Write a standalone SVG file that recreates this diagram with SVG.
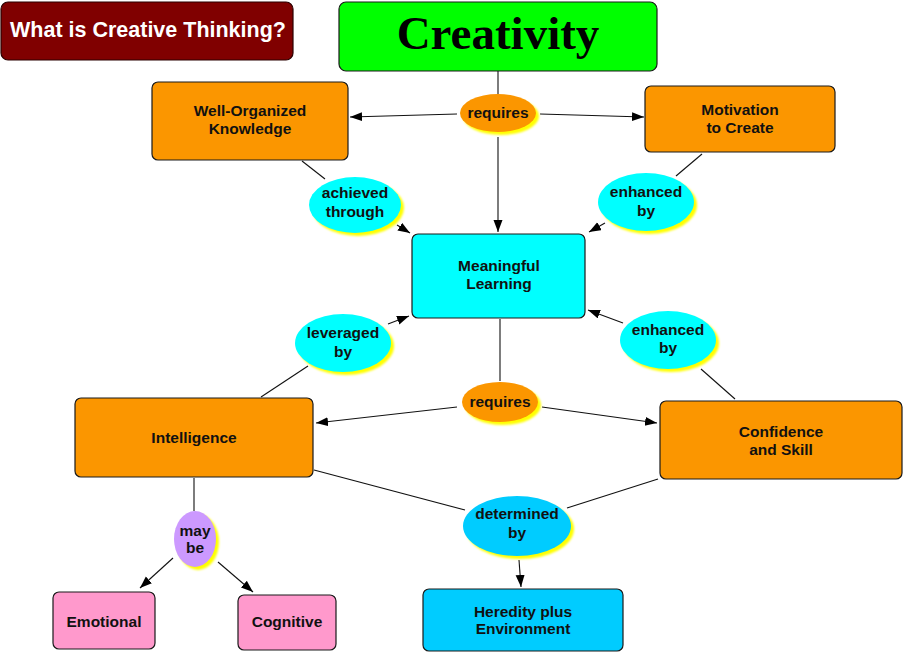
<svg xmlns="http://www.w3.org/2000/svg" width="904" height="653" viewBox="0 0 904 653">
<defs>
<marker id="arr" markerUnits="userSpaceOnUse" markerWidth="13" markerHeight="10" refX="12" refY="4.5" orient="auto">
<path d="M0,0 L12,4.5 L0,9 z" fill="#000"/>
</marker>
<filter id="soft" x="-20%" y="-20%" width="140%" height="140%"><feGaussianBlur stdDeviation="0.8"/></filter>
<style>
.box{stroke:#1a1a1a;stroke-width:1.2}
.org{fill:#fb9600}
.cyan{fill:#00ffff}
.blue{fill:#00ccff}
.pink{fill:#ff99cc}
.sh{fill:#ffff00;filter:url(#soft)}
.t{font-family:"Liberation Sans",Arial,sans-serif;font-weight:bold;font-size:15.5px;fill:#111;text-anchor:middle}
.c line{stroke:#111;stroke-width:1.1}
.c .a{marker-end:url(#arr)}
</style>
</defs>
<rect width="904" height="653" fill="#fff"/>

<g id="title">
<rect x="1" y="2" width="292" height="58" rx="7" fill="#800000" stroke="#2a0000" stroke-width="1.2"/>
<text x="10" y="37" font-family="Liberation Sans,Arial,sans-serif" font-weight="bold" font-size="21.5" fill="#fff">What is Creative Thinking?</text>
</g>

<g class="c">
<line x1="498" y1="71" x2="498" y2="94"/>
<line class="a" x1="457" y1="114" x2="350" y2="117"/>
<line class="a" x1="540" y1="114" x2="644" y2="117"/>
<line class="a" x1="498" y1="137" x2="498" y2="232"/>
<line x1="302" y1="161" x2="325" y2="179"/>
<line class="a" x1="397" y1="225" x2="410" y2="233"/>
<line x1="702" y1="154" x2="676" y2="176"/>
<line class="a" x1="605" y1="223" x2="589" y2="232"/>
<line x1="500" y1="319" x2="500" y2="381"/>
<line class="a" x1="457" y1="407" x2="316" y2="423"/>
<line class="a" x1="542" y1="407" x2="657" y2="423"/>
<line class="a" x1="388" y1="324" x2="409" y2="316"/>
<line x1="261" y1="397" x2="308" y2="366"/>
<line class="a" x1="623" y1="323" x2="588" y2="310"/>
<line x1="735" y1="399" x2="701" y2="369"/>
<line x1="314" y1="470" x2="465" y2="510"/>
<line x1="658" y1="479" x2="567" y2="508"/>
<line class="a" x1="519" y1="560" x2="521" y2="587"/>
<line x1="194" y1="478" x2="194" y2="511"/>
<line class="a" x1="173" y1="558" x2="140" y2="588"/>
<line class="a" x1="218" y1="562" x2="253" y2="592"/>
</g>

<g id="creativity">
<rect x="339" y="2" width="318" height="69" rx="7" fill="#00ff00" class="box"/>
<text x="498" y="49" font-family="Liberation Serif,'Times New Roman',serif" font-weight="bold" font-size="47" fill="#000" text-anchor="middle">Creativity</text>
</g>

<g id="well-organized">
<rect x="152" y="82" width="196" height="78" rx="6" class="box org"/>
<text class="t" x="250" y="116">Well-Organized</text>
<text class="t" x="250" y="134">Knowledge</text>
</g>

<g id="motivation">
<rect x="645" y="86" width="190" height="66" rx="6" class="box org"/>
<text class="t" x="740" y="115">Motivation</text>
<text class="t" x="740" y="133">to Create</text>
</g>

<g id="requires-top">
<ellipse cx="501" cy="116" rx="38" ry="19" class="sh"/>
<ellipse cx="498" cy="113" rx="38" ry="19" fill="#fb9600"/>
<text class="t" x="498" y="118">requires</text>
</g>

<g id="achieved-through">
<ellipse cx="358" cy="208" rx="46" ry="28" class="sh"/>
<ellipse cx="355" cy="205" rx="46" ry="28" class="cyan"/>
<text class="t" x="355" y="198">achieved</text>
<text class="t" x="355" y="217">through</text>
</g>

<g id="enhanced-by-top">
<ellipse cx="649" cy="205" rx="48" ry="29" class="sh"/>
<ellipse cx="646" cy="202" rx="48" ry="29" class="cyan"/>
<text class="t" x="646" y="197">enhanced</text>
<text class="t" x="646" y="216">by</text>
</g>

<g id="meaningful-learning">
<rect x="412" y="234" width="173" height="84" rx="6" class="box cyan"/>
<text class="t" x="499" y="271">Meaningful</text>
<text class="t" x="499" y="289">Learning</text>
</g>

<g id="leveraged-by">
<ellipse cx="346" cy="346" rx="48" ry="29" class="sh"/>
<ellipse cx="343" cy="343" rx="48" ry="29" class="cyan"/>
<text class="t" x="343" y="338">leveraged</text>
<text class="t" x="343" y="357">by</text>
</g>

<g id="enhanced-by-right">
<ellipse cx="671" cy="343" rx="48" ry="29" class="sh"/>
<ellipse cx="668" cy="340" rx="48" ry="29" class="cyan"/>
<text class="t" x="668" y="335">enhanced</text>
<text class="t" x="668" y="353">by</text>
</g>

<g id="requires-mid">
<ellipse cx="503" cy="405" rx="38" ry="20" class="sh"/>
<ellipse cx="500" cy="402" rx="38" ry="20" fill="#fb9600"/>
<text class="t" x="500" y="407">requires</text>
</g>

<g id="intelligence">
<rect x="75" y="398" width="238" height="79" rx="6" class="box org"/>
<text class="t" x="194" y="443">Intelligence</text>
</g>

<g id="confidence">
<rect x="660" y="401" width="242" height="78" rx="6" class="box org"/>
<text class="t" x="781" y="437">Confidence</text>
<text class="t" x="781" y="455">and Skill</text>
</g>

<g id="determined-by">
<ellipse cx="520" cy="529" rx="54" ry="30" class="sh"/>
<ellipse cx="517" cy="526" rx="54" ry="30" class="blue"/>
<text class="t" x="517" y="519">determined</text>
<text class="t" x="517" y="538">by</text>
</g>

<g id="may-be">
<ellipse cx="198" cy="542" rx="21" ry="28" class="sh"/>
<ellipse cx="195" cy="539" rx="21" ry="28" fill="#cc99ff"/>
<text class="t" x="195" y="536">may</text>
<text class="t" x="195" y="553">be</text>
</g>

<g id="emotional">
<rect x="53" y="592" width="102" height="57" rx="6" class="box pink"/>
<text class="t" x="104" y="627">Emotional</text>
</g>

<g id="cognitive">
<rect x="238" y="595" width="98" height="55" rx="6" class="box pink"/>
<text class="t" x="287" y="627">Cognitive</text>
</g>

<g id="heredity">
<rect x="423" y="589" width="200" height="62" rx="6" class="box blue"/>
<text class="t" x="523" y="617">Heredity plus</text>
<text class="t" x="523" y="634">Environment</text>
</g>
</svg>
